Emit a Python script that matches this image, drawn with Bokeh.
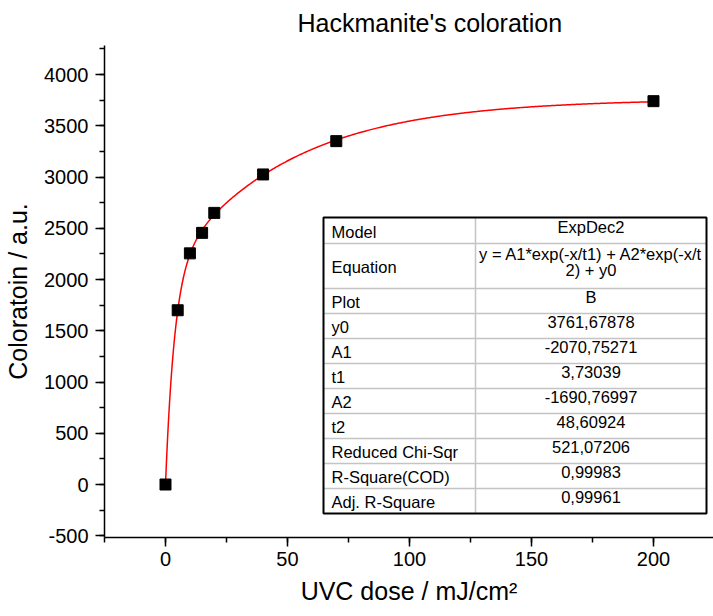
import numpy as np
from bokeh.plotting import figure
from bokeh.models import SingleIntervalTicker, Range1d, PrintfTickFormatter
from bokeh.core.properties import value
from bokeh.embed import file_html
from bokeh.resources import INLINE

# ---- data ----
dose = [0, 5, 10, 15, 20, 40, 70, 200]
coloration = [0, 1700, 2255, 2455, 2650, 3025, 3350, 3740]

# fit parameters (ExpDec2) as printed in the chart's table
y0, A1, t1, A2, t2 = 3761.67878, -2070.75271, 3.73039, -1690.76997, 48.60924

table_labels = ["Model", "Equation", "Plot", "y0", "A1", "t1", "A2", "t2",
                "Reduced Chi-Sqr", "R-Square(COD)", "Adj. R-Square"]
table_values = ["ExpDec2", "y = A1*exp(-x/t1) + A2*exp(-x/t\n2) + y0", "B",
                "3761,67878", "-2070,75271", "3,73039", "-1690,76997", "48,60924",
                "521,07206", "0,99983", "0,99961"]

FONT = "Liberation Sans"

# ---- layout constants (pixels) ----
W, H = 713, 616
FX0, FY0 = 104, 45
FW, FH = W - FX0, 492
XR = (-25, 224.6)
YR = (-517, 4283)


def dx(px):
    return XR[0] + (px - FX0) / FW * (XR[1] - XR[0])


def dy(py):
    return YR[1] - (py - FY0) / FH * (YR[1] - YR[0])


p = figure(width=W, height=H, output_backend="svg", toolbar_location=None,
           x_range=Range1d(*XR), y_range=Range1d(*YR),
           min_border_left=FX0, min_border_right=0, min_border_top=FY0,
           min_border_bottom=H - FY0 - FH)
p.outline_line_color = None
p.xgrid.visible = False
p.ygrid.visible = False
p.background_fill_color = "white"
p.border_fill_color = "white"

p.title.text = "Hackmanite's coloration"
p.title.text_font = FONT
p.title.text_font_size = "25px"
p.title.text_font_style = "normal"
p.title.text_color = "black"
p.title.align = "left"
p.title.offset = 193
p.title.standoff = 14
p.title.vertical_align = "top"

for ax in (p.xaxis[0], p.yaxis[0]):
    ax.axis_line_width = 1.5
    ax.major_tick_line_width = 1.5
    ax.minor_tick_line_width = 1.5
    ax.major_tick_out = 9
    ax.major_tick_in = 0
    ax.minor_tick_out = 5
    ax.minor_tick_in = 0
    ax.major_label_text_font = FONT
    ax.major_label_text_font_size = "20px"
    ax.major_label_text_color = "black"
    ax.axis_label_text_font = FONT
    ax.axis_label_text_font_size = "25px"
    ax.axis_label_text_font_style = "normal"
    ax.axis_label_text_color = "black"
    ax.axis_line_color = "black"
    ax.major_tick_line_color = "black"
    ax.minor_tick_line_color = "black"
    ax.formatter = PrintfTickFormatter(format="%d")

p.xaxis.ticker = SingleIntervalTicker(interval=50, num_minor_ticks=2)
p.yaxis.ticker = SingleIntervalTicker(interval=500, num_minor_ticks=2)
p.xaxis.axis_label = "UVC dose / mJ/cm²"
p.yaxis.axis_label = "Coloratoin / a.u."
p.xaxis.major_label_standoff = 5
p.yaxis.major_label_standoff = 7
p.xaxis.axis_label_standoff = 8
p.yaxis.axis_label_standoff = 9

# fit curve
xf = np.linspace(0, 200, 500)
yf = y0 + A1 * np.exp(-xf / t1) + A2 * np.exp(-xf / t2)
p.line(xf, yf, line_color="red", line_width=1.5)

# data points
p.scatter(dose, coloration, marker="square", size=11, fill_color="black",
          line_color="black")

# ---- results table ----
tl, tm, tr = 323, 475, 706
rows = [217, 243, 288, 313, 338, 363, 388, 413, 438, 463, 488, 513]

p.quad(left=[dx(tl)], right=[dx(tr)], top=[dy(rows[0])], bottom=[dy(rows[-1])],
       fill_color="white", line_color=None)
hx0 = [dx(tl)] * (len(rows) - 2)
hx1 = [dx(tr)] * (len(rows) - 2)
hy = [dy(r) for r in rows[1:-1]]
p.segment(x0=hx0, y0=hy, x1=hx1, y1=hy, line_color="#c4c4c4", line_width=1.5)
p.segment(x0=[dx(tm)], y0=[dy(rows[0])], x1=[dx(tm)], y1=[dy(rows[-1])],
          line_color="#c4c4c4", line_width=1.5)
p.quad(left=[dx(tl)], right=[dx(tr)], top=[dy(rows[0])], bottom=[dy(rows[-1])],
       fill_color=None, line_color="black", line_width=2)

lx, ly, lt = [], [], []
vx, vy, vt = [], [], []
for i, (lab, val) in enumerate(zip(table_labels, table_values)):
    cy = (rows[i] + rows[i + 1]) / 2
    lx.append(dx(tl + 8))
    ly.append(dy(cy + 1))
    lt.append(lab)
    lines = val.split("\n")
    n = len(lines)
    for k, ln in enumerate(lines):
        off = (k - (n - 1) / 2) * 16
        vx.append(dx((tm + tr) / 2))
        vy.append(dy(cy - 4 + off))
        vt.append(ln)

p.text(x=lx, y=ly, text=lt, text_align="left", text_baseline="middle",
       text_font=value(FONT), text_font_size=value("16.5px"), text_color="black")
p.text(x=vx, y=vy, text=vt, text_align="center", text_baseline="middle",
       text_font=value(FONT), text_font_size=value("16.5px"), text_color="black")

open("out.html", "w").write(file_html(p, INLINE))
